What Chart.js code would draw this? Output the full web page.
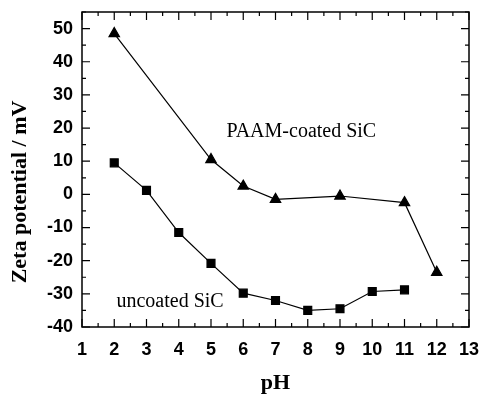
<!DOCTYPE html>
<html>
<head>
<meta charset="utf-8">
<script src="https://cdn.jsdelivr.net/npm/chart.js@4/dist/chart.umd.min.js"></script>
<style>
    html, body { margin: 0; padding: 0; background: #fff; }
    #wrap { width: 481px; height: 395px; }
</style>
</head>
<body>
<div id="wrap"><canvas id="zetaChart" width="481" height="395"></canvas></div>
<script>
// zeta potential vs pH
const phCoated = [2, 5, 6, 7, 9, 11, 12];
const zetaCoated = [48.5, 10.5, 2.5, -1.5, -0.5, -2.5, -23.5];

const phUncoated = [2, 3, 4, 5, 6, 7, 8, 9, 10, 11];
const zetaUncoated = [9.5, 1.2, -11.5, -20.8, -29.8, -32, -35, -34.5, -29.3, -28.8];

const xTicks = [1, 2, 3, 4, 5, 6, 7, 8, 9, 10, 11, 12, 13];
const yTicks = [-40, -30, -20, -10, 0, 10, 20, 30, 40, 50];

// series labels, placed in data units
const seriesLabels = [
    { text: 'PAAM-coated SiC', x: 7.8, y: 17.4 },
    { text: 'uncoated SiC', x: 3.73, y: -34 }
];

function toPoints(xs, ys) {
    return xs.map((x, i) => ({ x: x, y: ys[i] }));
}

// frame, inward ticks (major + minor) on all four sides, titles and labels
const framePlugin = {
    id: 'frame',
    afterDatasetsDraw(chart) {
        const ctx = chart.ctx;
        const a = chart.chartArea;
        const xs = chart.scales.x, ys = chart.scales.y;
        ctx.save();
        ctx.strokeStyle = '#000';
        ctx.lineWidth = 1.5;
        ctx.strokeRect(a.left, a.top, a.right - a.left, a.bottom - a.top);

        ctx.lineWidth = 1.2;
        ctx.beginPath();
        for (let v = 1; v <= 13; v += 0.5) {
            const px = xs.getPixelForValue(v);
            const len = Number.isInteger(v) ? 8 : 4;
            ctx.moveTo(px, a.bottom); ctx.lineTo(px, a.bottom - len);
            ctx.moveTo(px, a.top); ctx.lineTo(px, a.top + len);
        }
        for (let v = -40; v <= 55; v += 5) {
            const py = ys.getPixelForValue(v);
            const len = v % 10 === 0 ? 8 : 4;
            ctx.moveTo(a.left, py); ctx.lineTo(a.left + len, py);
            ctx.moveTo(a.right, py); ctx.lineTo(a.right - len, py);
        }
        ctx.stroke();

        ctx.fillStyle = '#000';
        ctx.font = '20px "Liberation Serif", "Times New Roman", serif';
        ctx.textAlign = 'center';
        ctx.textBaseline = 'alphabetic';
        seriesLabels.forEach(l => {
            ctx.fillText(l.text, xs.getPixelForValue(l.x), ys.getPixelForValue(l.y));
        });

        ctx.font = 'bold 22px "Liberation Serif", "Times New Roman", serif';
        ctx.fillText('pH', (a.left + a.right) / 2, 389);

        ctx.translate(20, 192);
        ctx.rotate(-Math.PI / 2);
        ctx.textBaseline = 'middle';
        ctx.fillText('Zeta potential / mV', 0, 0);
        ctx.restore();
    }
};

const tickFont = { family: '"Liberation Sans", Arial, sans-serif', size: 18, weight: 'bold' };

new Chart(document.getElementById('zetaChart').getContext('2d'), {
    type: 'scatter',
    data: {
        datasets: [{
            label: 'PAAM-coated SiC',
            data: toPoints(phCoated, zetaCoated),
            showLine: true,
            borderColor: '#000',
            backgroundColor: '#000',
            borderWidth: 1.2,
            pointStyle: 'triangle',
            pointRadius: 6,
            pointHoverRadius: 6
        }, {
            label: 'uncoated SiC',
            data: toPoints(phUncoated, zetaUncoated),
            showLine: true,
            borderColor: '#000',
            backgroundColor: '#000',
            borderWidth: 1.2,
            pointStyle: 'rect',
            pointRadius: 5.6,
            pointHoverRadius: 5.6
        }]
    },
    options: {
        responsive: false,
        animation: false,
        layout: { padding: { top: 12, right: 12, left: 0, bottom: 0 } },
        plugins: {
            legend: { display: false },
            tooltip: { enabled: false }
        },
        scales: {
            x: {
                type: 'linear',
                min: 1,
                max: 13,
                grid: { display: false, drawTicks: false },
                border: { display: false },
                afterBuildTicks: s => { s.ticks = xTicks.map(v => ({ value: v })); },
                afterFit: s => { s.height = 68; s.paddingLeft = 0; s.paddingRight = 0; },
                ticks: { color: '#000', font: tickFont, padding: 12, maxRotation: 0 }
            },
            y: {
                type: 'linear',
                min: -40,
                max: 55,
                grid: { display: false, drawTicks: false },
                border: { display: false },
                afterBuildTicks: s => { s.ticks = yTicks.map(v => ({ value: v })); },
                afterFit: s => { s.width = 82; s.paddingTop = 0; s.paddingBottom = 0; },
                ticks: { color: '#000', font: tickFont, padding: 9 }
            }
        }
    },
    plugins: [framePlugin]
});
</script>
</body>
</html>
